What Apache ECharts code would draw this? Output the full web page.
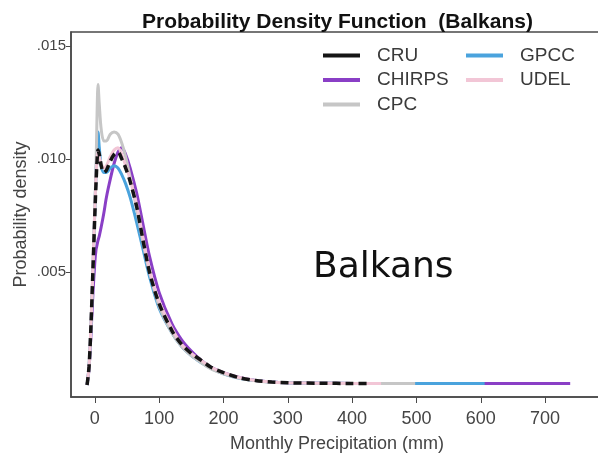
<!DOCTYPE html>
<html>
<head>
<meta charset="utf-8">
<title>Probability Density Function (Balkans)</title>
<script src="https://cdn.jsdelivr.net/npm/echarts@6/dist/echarts.min.js"></script>
<style>
  html, body { margin: 0; padding: 0; background: #fff; }
  #pdfChart { width: 598px; height: 454px; }
</style>
</head>
<body>
<div id="pdfChart"></div>
<script>
// monthly precipitation (mm) where the curves are read
var precip = [-12, -9, -6, -3, 0, 2, 3.5, 5, 7, 10, 14, 18, 24, 30, 36, 42, 48, 55, 65, 75,
              85, 100, 120, 135, 150, 165, 180, 200, 225, 250, 275, 300, 350, 400];

var cruPdf = [0, 0.0008, 0.0026, 0.0050, 0.0075, 0.0090, 0.0099, 0.0104, 0.0102, 0.0097, 0.0094, 0.0095,
              0.0099, 0.0102, 0.0103, 0.0100, 0.0096, 0.0090, 0.0079, 0.0064, 0.0050, 0.0036, 0.0024, 0.0018,
              0.0014, 0.0011, 0.0008, 0.00055, 0.00032, 0.0002, 0.00013, 0.0001, 0.00008, 0.00007];
var udelPdf = [0, 0.0008, 0.0027, 0.0052, 0.0078, 0.0092, 0.0100, 0.0103, 0.0101, 0.0098, 0.0096, 0.0097,
               0.0101, 0.0104, 0.0105, 0.0102, 0.0097, 0.0091, 0.0080, 0.0065, 0.0051, 0.0037, 0.0025, 0.0018,
               0.0014, 0.0011, 0.0008, 0.00055, 0.00033, 0.0002, 0.00013, 0.0001, 0.00008, 0.00007];
var cpcPdf = [0, 0.0008, 0.0026, 0.0050, 0.0078, 0.0098, 0.0120, 0.0133, 0.0124, 0.0113, 0.0108, 0.0108,
              0.0111, 0.0112, 0.0111, 0.0107, 0.0101, 0.0092, 0.0078, 0.0063, 0.0050, 0.0035, 0.0023, 0.0017,
              0.0013, 0.0010, 0.00072, 0.0005, 0.0003, 0.00019, 0.00012, 0.0001, 0.00008, 0.00007];
var gpccPdf = [0, 0.0008, 0.0026, 0.0050, 0.0077, 0.0094, 0.0106, 0.0112, 0.0105, 0.0097, 0.0094, 0.0094,
               0.0096, 0.0097, 0.0096, 0.0093, 0.0089, 0.0083, 0.0072, 0.0060, 0.0048, 0.0034, 0.0023, 0.0017,
               0.0013, 0.0010, 0.00075, 0.0005, 0.0003, 0.0002, 0.00013, 0.0001, 0.00008, 0.00007];
var chirpsPdf = [0, 0.0007, 0.0022, 0.0040, 0.0054, 0.0060, 0.0062, 0.0064, 0.0066, 0.0070, 0.0076, 0.0083,
                 0.0091, 0.0098, 0.0103, 0.0105, 0.0102, 0.0096, 0.0085, 0.0071, 0.0057, 0.0041, 0.0027, 0.0020,
                 0.0015, 0.0011, 0.0008, 0.00055, 0.00033, 0.0002, 0.00013, 0.0001, 0.00008, 0.00007];

// where each product's tail stops, and the tail level
var tailEnd = { CRU: 425, UDEL: 445, CPC: 498, GPCC: 606, CHIRPS: 739 };
var tailLevel = 0.00007;

var xTicks = [0, 100, 200, 300, 400, 500, 600, 700];
var yTicks = [0.005, 0.010, 0.015];

function toPairs(ys, end) {
    var d = [];
    for (var i = 0; i < precip.length; i++) {
        d.push([precip[i], ys[i]]);
    }
    d.push([end, tailLevel]);
    return d;
}

function pdfLine(name, ys, color, width, dash, z) {
    return {
        name: name,
        type: 'line',
        data: toPairs(ys, tailEnd[name]),
        smooth: 0.3,
        symbol: 'none',
        z: z,
        lineStyle: { color: color, width: width, type: dash || 'solid' },
        itemStyle: { color: color }
    };
}

var pdfChart = echarts.init(document.getElementById('pdfChart'));
var font = 'Liberation Sans, Arial, Helvetica, sans-serif';

var legendBase = {
    orient: 'vertical',
    top: 46,
    padding: 0,
    icon: 'rect',
    itemWidth: 37,
    itemHeight: 4,
    itemGap: 5.5,
    selectedMode: false,
    textStyle: { fontFamily: font, fontSize: 19, lineHeight: 18, color: '#3a3a3a', padding: [0, 0, 0, 12] }
};

var option = {
    animation: false,
    backgroundColor: '#fff',
    title: {
        text: 'Probability Density Function  (Balkans)',
        left: 137,
        top: 7,
        textStyle: { fontFamily: font, fontSize: 21, fontWeight: 'bold', color: '#111' }
    },
    legend: [
        Object.assign({}, legendBase, { left: 323, data: ['CRU', 'CHIRPS', 'CPC'] }),
        Object.assign({}, legendBase, { left: 466, data: ['GPCC', 'UDEL'] })
    ],
    grid: {
        left: 71,
        top: 32,
        right: -5,
        bottom: 57,
        outerBoundsMode: 'none',
        show: true,
        borderColor: '#4a4a4a',
        borderWidth: 1.5,
        backgroundColor: 'transparent'
    },
    xAxis: {
        type: 'value',
        min: -37,
        max: 790,
        name: 'Monthly Precipitation (mm)',
        nameLocation: 'middle',
        nameGap: 38,
        nameTextStyle: { fontFamily: font, fontSize: 18, color: '#444' },
        axisLine: { show: true, onZero: false, lineStyle: { color: '#4a4a4a', width: 1.5 } },
        axisTick: { show: true, customValues: xTicks, length: 6, lineStyle: { color: '#4a4a4a' } },
        axisLabel: { customValues: xTicks, fontFamily: font, fontSize: 18, color: '#444', margin: 13 },
        splitLine: { show: false }
    },
    yAxis: {
        type: 'value',
        min: -0.00053,
        max: 0.01562,
        name: 'Probability density',
        nameLocation: 'middle',
        nameGap: 41,
        nameMoveOverlap: false,
        nameTextStyle: { fontFamily: font, fontSize: 18, color: '#444' },
        axisLine: { show: true, onZero: false, lineStyle: { color: '#4a4a4a', width: 1.5 } },
        axisTick: { show: true, customValues: yTicks, length: 5, lineStyle: { color: '#4a4a4a' } },
        axisLabel: {
            customValues: yTicks,
            fontFamily: font,
            fontSize: 15,
            color: '#444',
            margin: 5,
            formatter: function (v) {
                return v.toFixed(3).replace(/^0/, '');
            }
        },
        splitLine: { show: false }
    },
    graphic: [{
        type: 'text',
        left: 313,
        top: 250,
        style: {
            text: 'Balkans',
            font: '36px "DejaVu Sans", sans-serif',
            fill: '#111'
        }
    }],
    series: [
        pdfLine('CHIRPS', chirpsPdf, '#8a3fc6', 3, null, 2),
        pdfLine('GPCC', gpccPdf, '#4aa3dd', 3, null, 3),
        pdfLine('CPC', cpcPdf, '#c6c6c6', 3, null, 4),
        pdfLine('UDEL', udelPdf, '#f2c6d6', 3, null, 5),
        pdfLine('CRU', cruPdf, '#151515', 3.5, [8, 5], 6)
    ]
};

pdfChart.setOption(option);
</script>
</body>
</html>
